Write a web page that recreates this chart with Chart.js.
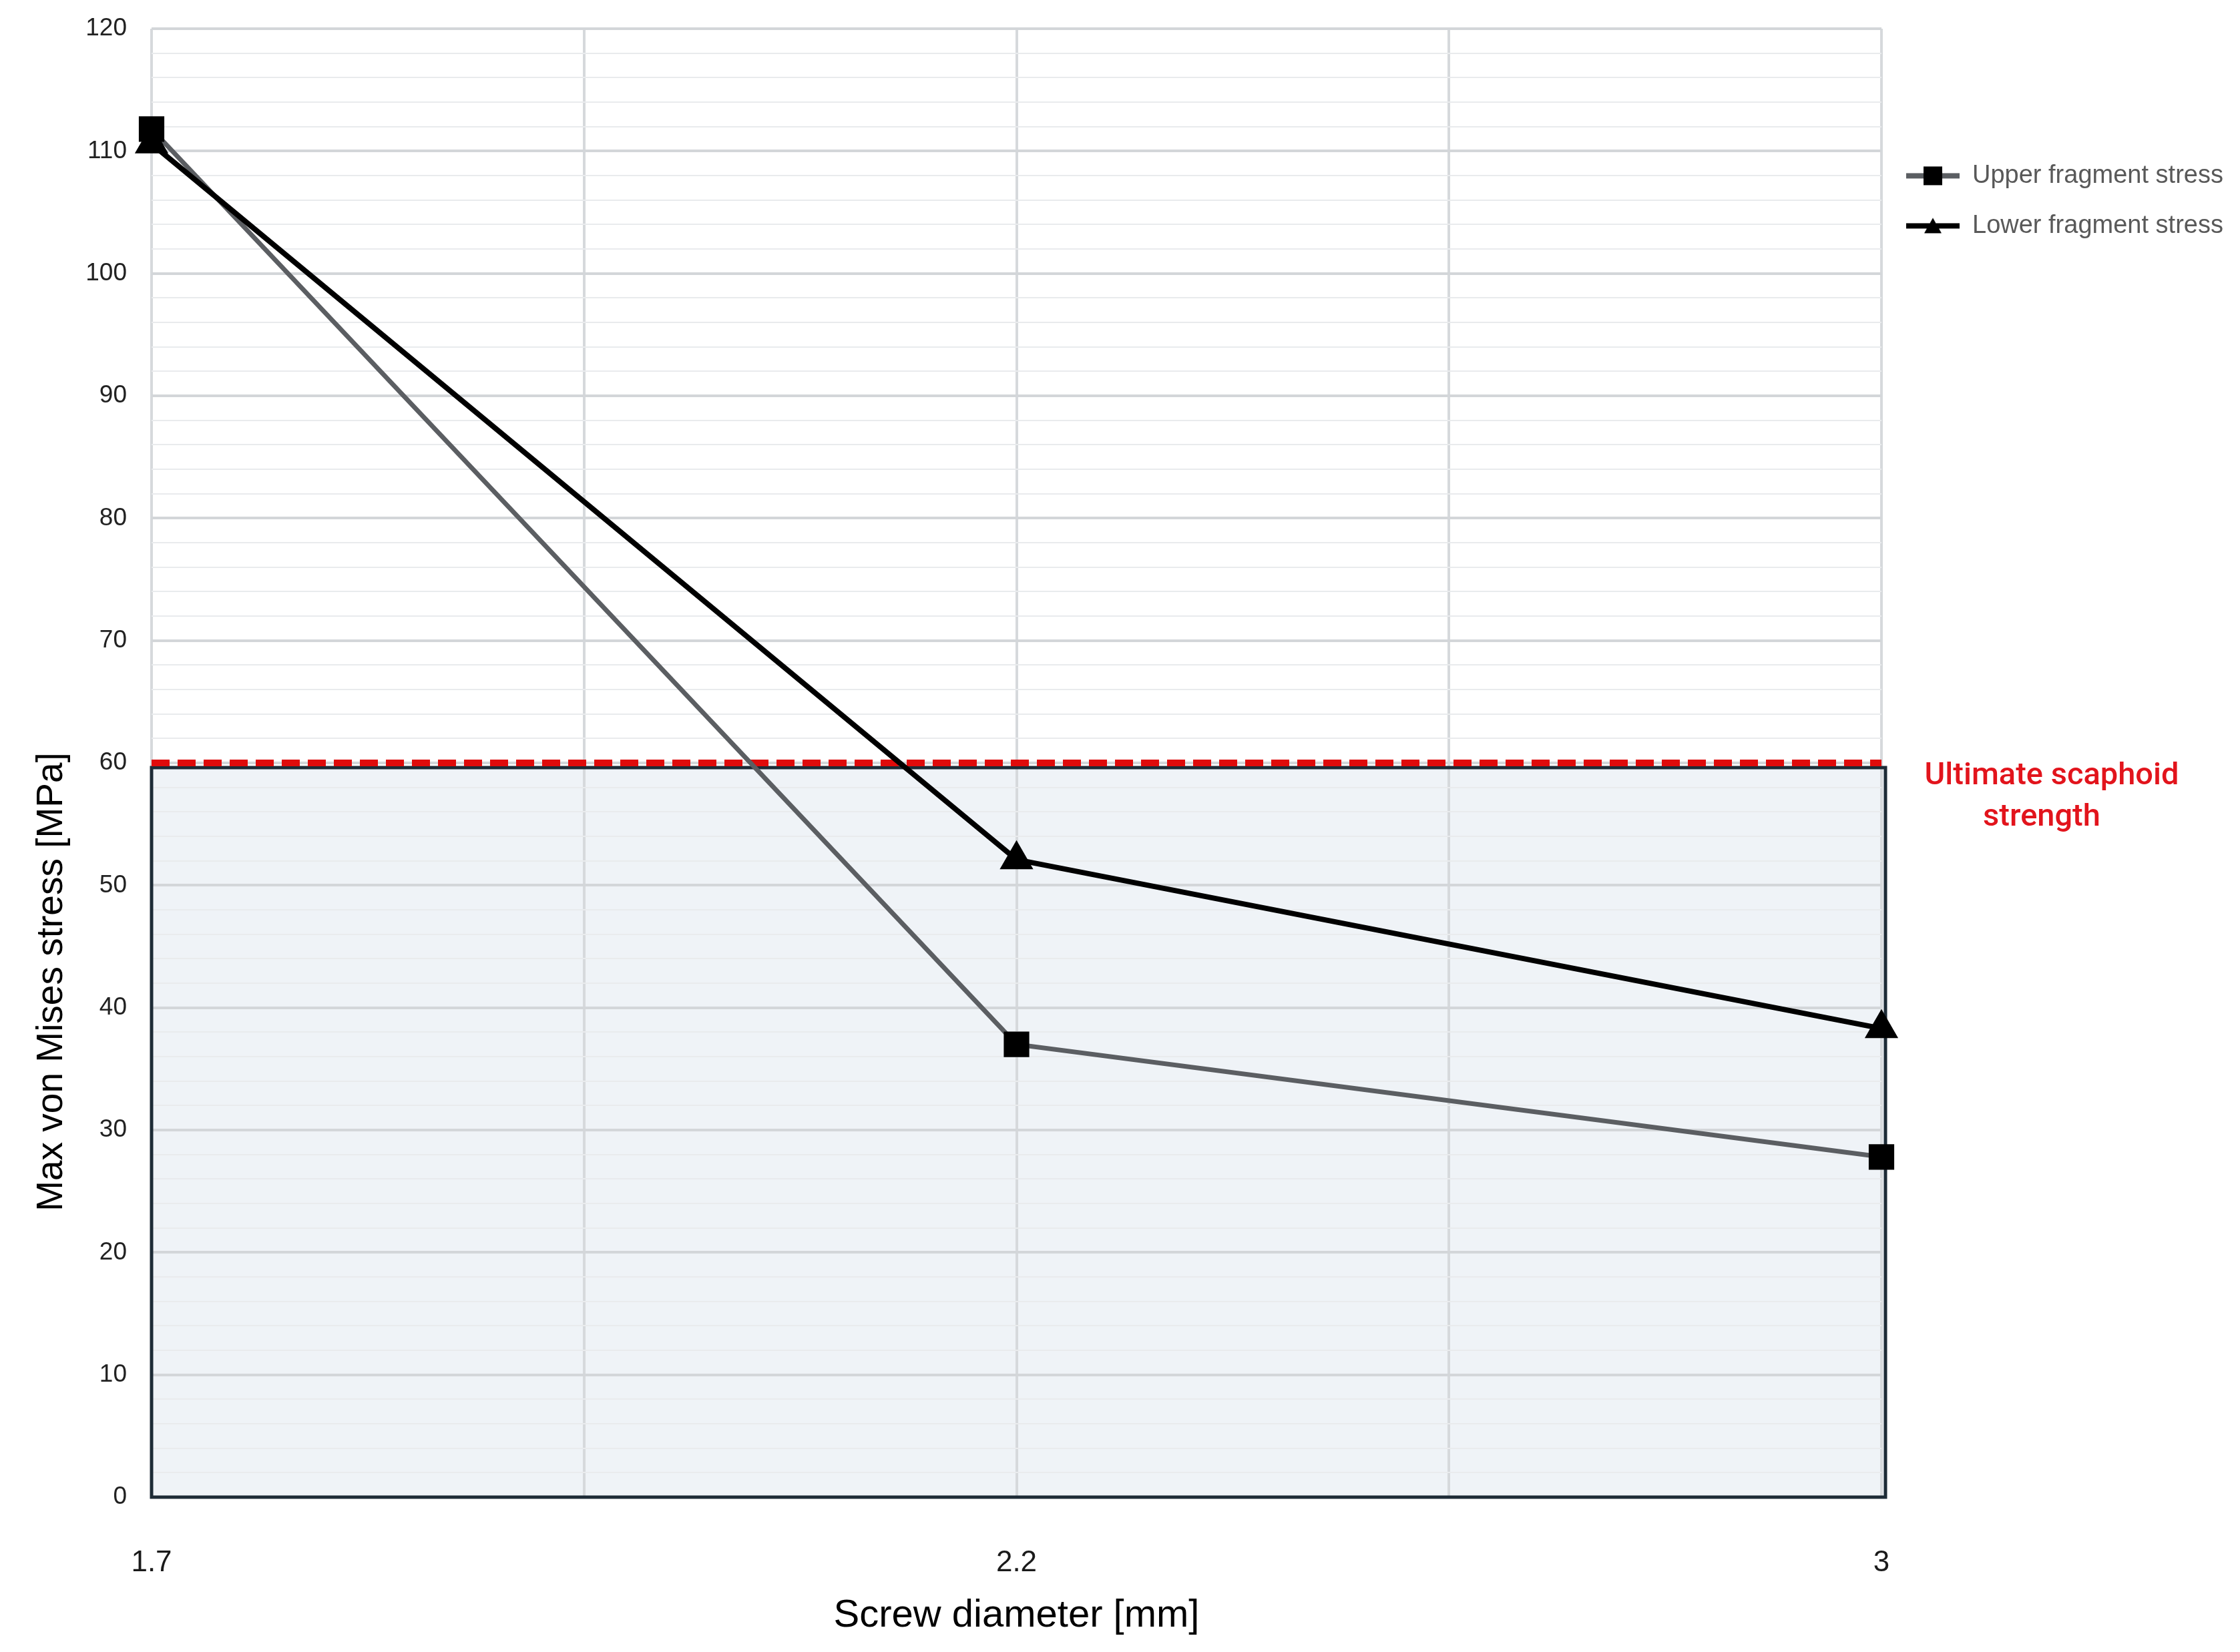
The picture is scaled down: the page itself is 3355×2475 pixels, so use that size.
<!DOCTYPE html>
<html>
<head>
<meta charset="utf-8">
<script src="https://cdn.jsdelivr.net/npm/chart.js@4.4.1/dist/chart.umd.min.js"></script>
<style>
  html, body { margin: 0; padding: 0; background: #fff; }
  #wrap { width: 3355px; height: 2475px; }
</style>
</head>
<body>
<div id="wrap"><canvas id="myChart" width="3355" height="2475"></canvas></div>
<script>
// values
const diameters = ['1.7', '2.2', '3'];
const upperStress = [111.8, 37.0, 27.8];
const lowerStress = [110.6, 52.1, 38.3];
const strengthLimit = 60;
const strengthLabel = ['Ultimate scaphoid', 'strength'];
const yMax = 120;
const yMajorStep = 10;
const yMinorStep = 2;

const FONT = "'Liberation Sans', Arial, sans-serif";
const plotRight = 2818;

const toPoints = (vals) => vals.map((v, i) => ({x: i, y: v}));

// little line+marker icons for the legend
function legendIcon(lineColor, marker) {
  const c = document.createElement('canvas');
  c.width = 80; c.height = 40;
  const ctx = c.getContext('2d');
  ctx.strokeStyle = lineColor;
  ctx.lineWidth = 8;
  ctx.beginPath(); ctx.moveTo(0, 20); ctx.lineTo(80, 20); ctx.stroke();
  ctx.fillStyle = '#000';
  if (marker === 'rect') {
    ctx.fillRect(26, 6, 28, 28);
  } else {
    ctx.beginPath(); ctx.moveTo(40, 8); ctx.lineTo(53, 31); ctx.lineTo(27, 31); ctx.closePath(); ctx.fill();
  }
  return c;
}
const icons = [legendIcon('#5b5e62', 'rect'), legendIcon('#000', 'triangle')];

// shaded safe zone below the strength limit + labels
const strengthZone = {
  id: 'strengthZone',
  beforeDraw(chart) {
    const {ctx, scales: {x, y}} = chart;
    const left = x.getPixelForValue(0);
    const right = x.getPixelForValue(diameters.length - 1) + 6;
    const top = y.getPixelForValue(strengthLimit) + 7;
    const bottom = y.getPixelForValue(0);
    ctx.save();
    ctx.fillStyle = '#eff3f7';
    ctx.fillRect(left, top, right - left, bottom - top);
    ctx.restore();
  },
  beforeDatasetsDraw(chart) {
    const {ctx, scales: {x, y}} = chart;
    const left = x.getPixelForValue(0);
    const right = x.getPixelForValue(diameters.length - 1) + 6;
    const top = y.getPixelForValue(strengthLimit) + 7;
    const bottom = y.getPixelForValue(0);
    ctx.save();
    ctx.strokeStyle = '#1d2b36';
    ctx.lineWidth = 5;
    ctx.strokeRect(left, top, right - left, bottom - top);
    ctx.restore();
  },
  afterDraw(chart) {
    const {ctx, chartArea, scales: {y}} = chart;
    ctx.save();
    // red annotation
    ctx.fillStyle = '#e2141c';
    ctx.font = "500 47px Roboto, 'Liberation Sans', sans-serif";
    ctx.textAlign = 'center';
    ctx.textBaseline = 'middle';
    const yl = y.getPixelForValue(strengthLimit);
    ctx.fillText(strengthLabel[0], chartArea.right + 255, yl + 20);
    ctx.fillText(strengthLabel[1], chartArea.right + 240, yl + 82);
    // y axis title (sits lower than the axis middle in the original)
    ctx.fillStyle = '#000';
    ctx.font = '55px ' + FONT;
    ctx.translate(78, (chartArea.top + chartArea.bottom) / 2 + 328);
    ctx.rotate(-Math.PI / 2);
    ctx.fillText('Max von Mises stress [MPa]', 0, 0);
    ctx.restore();
  }
};

const data = {
  datasets: [{
    label: 'Upper fragment stress',
    data: toPoints(upperStress),
    borderColor: '#5b5e62',
    backgroundColor: '#000',
    borderWidth: 7,
    pointStyle: 'rect',
    pointRadius: 27,
    pointBorderWidth: 0,
    pointBackgroundColor: '#000',
    tension: 0,
    clip: false,
    order: 2
  }, {
    label: 'Lower fragment stress',
    data: toPoints(lowerStress),
    borderColor: '#000',
    backgroundColor: '#000',
    borderWidth: 8,
    pointStyle: 'triangle',
    pointRadius: 29,
    pointBorderWidth: 0,
    pointBackgroundColor: '#000',
    tension: 0,
    clip: false,
    order: 1
  }, {
    label: 'limit',
    data: [{x: 0, y: strengthLimit}, {x: diameters.length - 1, y: strengthLimit}],
    borderColor: '#e00b0b',
    borderWidth: 10,
    borderDash: [27, 12],
    pointRadius: 0,
    fill: false,
    clip: false,
    order: 3
  }]
};

const config = {
  type: 'line',
  data: data,
  plugins: [strengthZone],
  options: {
    responsive: false,
    animation: false,
    devicePixelRatio: 1,
    layout: { padding: { top: 43, right: 0, bottom: 0, left: 0 } },
    scales: {
      x: {
        type: 'linear',
        min: 0,
        max: diameters.length - 1,
        afterFit: (scale) => { scale.height = 232; },
        border: { display: false },
        grid: { color: '#d6d9dc', lineWidth: 4, drawTicks: false },
        ticks: {
          stepSize: 0.5,
          autoSkip: false,
          maxRotation: 0,
          padding: 72,
          color: '#1a1a1a',
          font: { family: FONT, size: 44 },
          callback: (v) => Number.isInteger(v) ? diameters[v] : ''
        },
        title: {
          display: true,
          text: 'Screw diameter [mm]',
          color: '#000',
          font: { family: FONT, size: 58 },
          padding: { top: 0, bottom: 19 }
        }
      },
      y: {
        min: 0,
        max: yMax,
        afterFit: (scale) => {
          scale.width = 227;
          scale.paddingTop = 0;
          scale.paddingBottom = 0;
        },
        border: { display: false },
        grid: {
          drawTicks: false,
          color: (c) => c.tick && c.tick.value % yMajorStep === 0 ? '#d3d6d9' : '#e9ebed',
          lineWidth: (c) => c.tick && c.tick.value % yMajorStep === 0 ? 4 : 2
        },
        ticks: {
          stepSize: yMinorStep,
          autoSkip: false,
          padding: 37,
          color: '#222',
          font: { family: FONT, size: 37 },
          callback: (v) => v % yMajorStep === 0 ? String(v) : ''
        }
      }
    },
    plugins: {
      tooltip: { enabled: false },
      legend: {
        position: 'right',
        align: 'start',
        title: { display: true, text: ' ', font: { size: 12 }, padding: { top: 150, bottom: 0 } },
        labels: {
          usePointStyle: true,
          pointStyleWidth: 80,
          padding: 37,
          color: '#595959',
          font: { family: FONT, size: 38 },
          filter: (item) => item.datasetIndex < 2,
          sort: (a, b) => a.datasetIndex - b.datasetIndex,
          generateLabels: (chart) => {
            const items = Chart.defaults.plugins.legend.labels.generateLabels(chart);
            items.forEach(it => { if (it.datasetIndex < 2) it.pointStyle = icons[it.datasetIndex]; });
            return items;
          }
        }
      }
    }
  }
};

const myChart = new Chart(document.getElementById('myChart'), config);
// shift so the plot's right edge lands where the original has it
myChart.options.layout.padding.right += myChart.chartArea.right - plotRight;
myChart.update('none');
</script>
</body>
</html>
